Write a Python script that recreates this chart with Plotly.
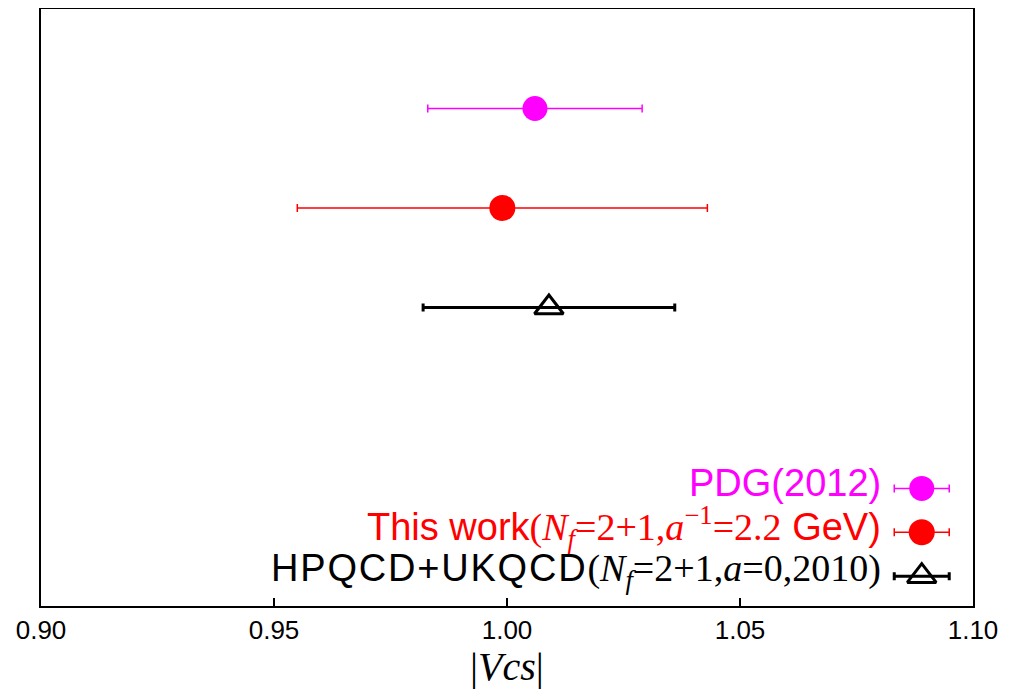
import plotly.graph_objects as go

# ---- data ----
series_names = ["PDG(2012)", "This work", "HPQCD+UKQCD"]
vcs_values = [1.006, 0.999, 1.009]
vcs_errors = [0.023, 0.044, 0.027]
row_positions = [5, 4, 3]
colors = ["#FF00FF", "#FF0000", "#000000"]
symbols = ["circle", "circle", "triangle-up-open"]
tick_vals = [0.90, 0.95, 1.00, 1.05, 1.10]
tick_text = ["0.90", "0.95", "1.00", "1.05", "1.10"]

SANS = "Liberation Sans, Arial, sans-serif"
SERIF = "Liberation Serif, Times New Roman, serif"


def serif(s):
    return f'<span style="font-family:{SERIF}">{s}</span>'


legend_labels = [
    "PDG(2012)",
    "This work" + serif("(<i>N</i><sub><i>f</i></sub>=2+1,<i>a</i><sup>\u22121</sup>=2.2") + " GeV)",
    '<span style="letter-spacing:1.8px">HPQCD+UKQCD</span>'
    + serif("(<i>N</i><sub><i>f</i></sub>=2+1,<i>a</i>=0,2010)"),
]

err_widths = [1.5, 1.5, 3]
marker_sizes = [25, 26, 25]
marker_lines = [0, 0, 3]

fig = go.Figure()
for i in range(len(series_names)):
    fig.add_trace(go.Scatter(
        x=[vcs_values[i]], y=[row_positions[i]], mode="markers",
        marker=dict(symbol=symbols[i], size=marker_sizes[i], color=colors[i],
                    line=dict(width=marker_lines[i], color=colors[i])),
        error_x=dict(type="data", array=[vcs_errors[i]], color=colors[i],
                     thickness=err_widths[i], width=4),
        showlegend=False, xaxis="x", yaxis="y",
    ))

# custom legend (symbol to the right of text) drawn on an overlay axis
leg_x = 0.945
leg_half = 0.0295
leg_top = 0.197
leg_step = 0.0735
for i in range(len(series_names)):
    ly = leg_top - i * leg_step
    fig.add_trace(go.Scatter(
        x=[leg_x], y=[ly], mode="markers",
        marker=dict(symbol=symbols[i], size=marker_sizes[i], color=colors[i],
                    line=dict(width=marker_lines[i], color=colors[i])),
        error_x=dict(type="constant", value=leg_half, color=colors[i],
                     thickness=err_widths[i], width=4),
        showlegend=False, xaxis="x2", yaxis="y2", hoverinfo="skip",
    ))
    fig.add_annotation(
        x=0.903, y=ly, xref="paper", yref="paper", xanchor="right", yanchor="middle",
        yshift=5, text=legend_labels[i], showarrow=False,
        font=dict(family=SANS, size=38, color=colors[i]),
    )

# axis title as annotation for exact placement
fig.add_annotation(
    x=0.5, y=-0.102, xref="paper", yref="paper", xanchor="center", yanchor="middle",
    text="|<i>Vcs</i>|", showarrow=False,
    font=dict(family=SERIF, size=40, color="black"),
)

# page body adds an 8px offset, so the figure is 8px smaller than the window
fig.update_layout(
    width=1009, height=683,
    margin=dict(l=33, r=44, t=1, b=85, autoexpand=False),
    plot_bgcolor="white", paper_bgcolor="white",
    font=dict(family=SANS, color="black"),
    xaxis=dict(
        range=[0.90, 1.10], tickvals=tick_vals, ticktext=tick_text,
        ticks="inside", ticklen=8, tickwidth=1.5, tickcolor="black",
        tickfont=dict(family=SANS, size=26, color="black"),
        showline=True, linewidth=2, linecolor="black", mirror=True,
        showgrid=False, zeroline=False, automargin=False,
    ),
    yaxis=dict(
        range=[0, 6], showticklabels=False, ticks="",
        showline=True, linewidth=2, linecolor="black", mirror=True,
        showgrid=False, zeroline=False, automargin=False,
    ),
    xaxis2=dict(range=[0, 1], overlaying="x", visible=False),
    yaxis2=dict(range=[0, 1], overlaying="y", visible=False),
)

fig.write_html("out.html")
